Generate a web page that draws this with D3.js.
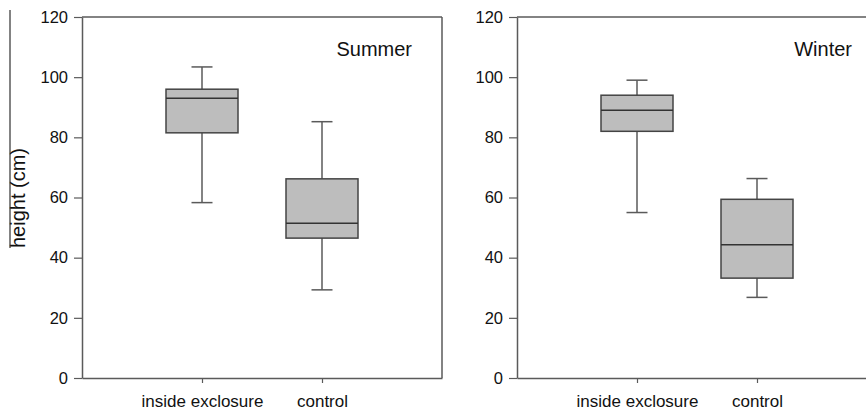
<!DOCTYPE html>
<html>
<head>
<meta charset="utf-8">
<script src="https://cdn.jsdelivr.net/npm/d3@7"></script>
<style>
  html, body { margin: 0; padding: 0; background: #fff; }
  svg { display: block; }
  text { font-family: "Liberation Sans", Arial, sans-serif; fill: #111; }
</style>
</head>
<body>
<svg id="chart" width="866" height="412"></svg>
<script>
// ---- data ----
const categories = ["inside exclosure", "control"];
const panels = ["Summer", "Winter"];
// [whiskerLow, q1, median, q3, whiskerHigh]
const summerStats = [
  [58.3, 81.5, 93.0, 96.0, 103.4],
  [29.3, 46.5, 51.4, 66.2, 85.2]
];
const winterStats = [
  [55.0, 82.0, 89.0, 94.0, 99.0],
  [26.8, 33.2, 44.3, 59.4, 66.3]
];
const yTicks = [0, 20, 40, 60, 80, 100, 120];
const yLabel = "height (cm)";

// ---- layout ----
const svg = d3.select("#chart");
const plotTop = 17, plotBottom = 378, plotW = 360;
const panelX = [82, 517];
const y = d3.scaleLinear().domain([0, 120]).range([plotBottom, plotTop]);
const lineCol = "#5a5a5a";
const boxStroke = "#444";
const font = "'Liberation Sans', Arial, sans-serif";

// stray frame line at left edge (from adjacent figure)
svg.append("line").attr("x1", 10).attr("x2", 10).attr("y1", 10).attr("y2", 248)
  .attr("stroke", lineCol).attr("stroke-width", 1.5);

const allStats = [summerStats, winterStats];

panels.forEach((name, pi) => {
  const x0 = panelX[pi];
  const g = svg.append("g").attr("transform", `translate(${x0},0)`);
  const x = d3.scalePoint().domain(categories).range([0, plotW]).padding(1);

  // frame (top and right)
  g.append("line").attr("x1", 0).attr("x2", plotW).attr("y1", plotTop).attr("y2", plotTop)
    .attr("stroke", lineCol).attr("stroke-width", 1.5);
  g.append("line").attr("x1", plotW).attr("x2", plotW).attr("y1", plotTop).attr("y2", plotBottom)
    .attr("stroke", lineCol).attr("stroke-width", 1.5);

  // y axis
  const ya = g.append("g").call(d3.axisLeft(y).tickValues(yTicks).tickSize(8).tickPadding(6).tickSizeOuter(0));
  ya.select(".domain").attr("stroke", lineCol).attr("stroke-width", 1.5);
  ya.selectAll(".tick line").attr("stroke", lineCol).attr("stroke-width", 1.2);
  ya.selectAll(".tick text").attr("font-size", 16.5).style("fill", "#111").attr("font-family", font);

  // x axis
  const xa = g.append("g").attr("transform", `translate(0,${plotBottom})`)
    .call(d3.axisBottom(x).tickSize(5).tickPadding(12).tickSizeOuter(0));
  xa.select(".domain").attr("stroke", lineCol).attr("stroke-width", 1.5);
  xa.selectAll(".tick line").attr("stroke", lineCol).attr("stroke-width", 1.2);
  xa.selectAll(".tick text").attr("font-size", 17).style("fill", "#111").attr("font-family", font);

  // boxes
  const boxW = 72, capW = 21;
  allStats[pi].forEach((s, i) => {
    const cx = x(categories[i]);
    const [lo, q1, med, q3, hi] = s;
    const bg = g.append("g");
    bg.append("line").attr("x1", cx).attr("x2", cx).attr("y1", y(hi)).attr("y2", y(q3))
      .attr("stroke", lineCol).attr("stroke-width", 1.5);
    bg.append("line").attr("x1", cx).attr("x2", cx).attr("y1", y(q1)).attr("y2", y(lo))
      .attr("stroke", lineCol).attr("stroke-width", 1.5);
    bg.append("line").attr("x1", cx - capW / 2).attr("x2", cx + capW / 2).attr("y1", y(hi)).attr("y2", y(hi))
      .attr("stroke", lineCol).attr("stroke-width", 1.5);
    bg.append("line").attr("x1", cx - capW / 2).attr("x2", cx + capW / 2).attr("y1", y(lo)).attr("y2", y(lo))
      .attr("stroke", lineCol).attr("stroke-width", 1.5);
    bg.append("rect").attr("x", cx - boxW / 2).attr("width", boxW)
      .attr("y", y(q3)).attr("height", y(q1) - y(q3))
      .attr("fill", "#bdbdbd").attr("stroke", boxStroke).attr("stroke-width", 1.5);
    bg.append("line").attr("x1", cx - boxW / 2).attr("x2", cx + boxW / 2).attr("y1", y(med)).attr("y2", y(med))
      .attr("stroke", "#333").attr("stroke-width", 1.5);
  });

  // panel title
  g.append("text").attr("x", pi === 0 ? 330 : 335).attr("y", 56)
    .attr("text-anchor", "end").attr("font-size", 20).text(name);
});

// y axis label
svg.append("text").attr("transform", "translate(25,198) rotate(-90)")
  .attr("text-anchor", "middle").attr("font-size", 20).text(yLabel);
</script>
</body>
</html>
